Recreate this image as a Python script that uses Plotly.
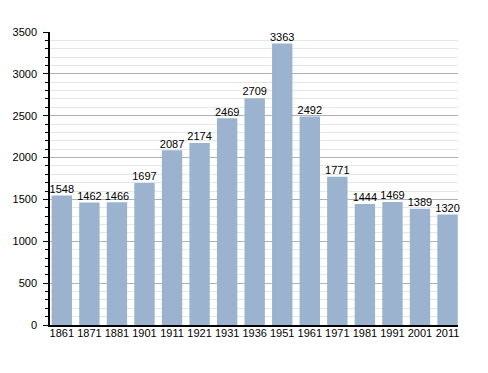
import plotly.graph_objects as go

years = ["1861", "1871", "1881", "1901", "1911", "1921", "1931", "1936",
         "1951", "1961", "1971", "1981", "1991", "2001", "2011"]
population = [1548, 1462, 1466, 1697, 2087, 2174, 2469, 2709,
              3363, 2492, 1771, 1444, 1469, 1389, 1320]

FONT = "Liberation Sans, Arial"

fig = go.Figure()
fig.add_trace(go.Bar(
    x=years, y=population,
    marker=dict(color="#9bb3ce", line=dict(width=0)),
    hoverinfo="x+y",
))
fig.add_trace(go.Scatter(
    x=years, y=population,
    mode="text",
    text=[str(v) for v in population],
    textposition="top center",
    textfont=dict(size=11, color="black", family=FONT),
    cliponaxis=False,
    hoverinfo="skip",
))

fig.update_layout(
    width=480, height=365,
    margin=dict(l=42, r=30, t=24, b=48, autoexpand=False),
    paper_bgcolor="white", plot_bgcolor="white",
    bargap=0.26,
    showlegend=False,
    font=dict(family=FONT, size=11, color="black"),
)
fig.update_xaxes(
    type="category",
    range=[-0.43, 14.38],
    automargin=False,
    tickangle=0,
    showline=True, linecolor="black", linewidth=1.5,
    ticks="", showgrid=False,
    ticklabelstandoff=-3,
    tickfont=dict(size=11),
)
fig.update_yaxes(
    range=[0, 3500],
    dtick=500,
    automargin=False,
    showline=True, linecolor="black", linewidth=1.5,
    ticks="outside", ticklen=5, tickcolor="black",
    showgrid=True, gridcolor="#b0b0b0", gridwidth=1,
    zeroline=False,
    ticklabelstandoff=4,
    minor=dict(dtick=100, showgrid=True, gridcolor="#e6e6e6",
               ticks="outside", ticklen=3, tickcolor="black"),
    tickfont=dict(size=11),
)

fig.write_html("out.html")
